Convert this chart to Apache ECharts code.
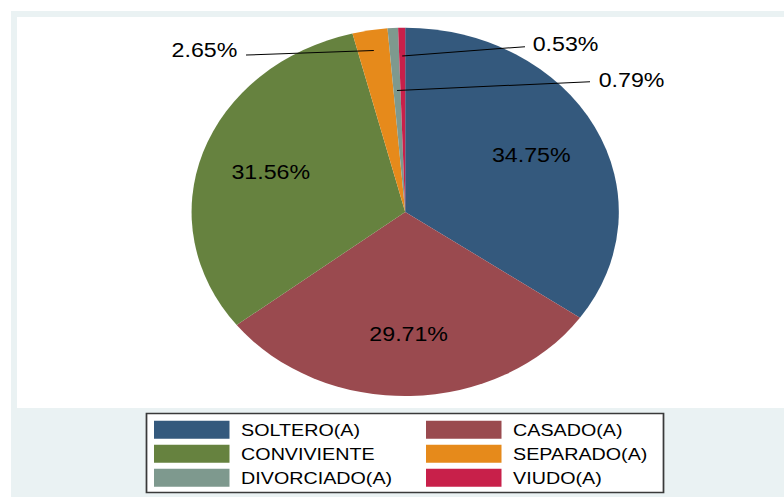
<!DOCTYPE html>
<html><head><meta charset="utf-8">
<script src="https://cdn.jsdelivr.net/npm/echarts@6/dist/echarts.min.js"></script>
<style>
html,body{margin:0;padding:0;background:#fff;overflow:hidden;width:784px;height:497px}
#chart{width:676px;height:497px;transform:scaleX(1.1597633);transform-origin:0 0;}
</style>
</head><body><div id="chart"></div><script>
// ---- data ----
const categories = ['SOLTERO(A)', 'CASADO(A)', 'CONVIVIENTE', 'SEPARADO(A)', 'DIVORCIADO(A)', 'VIUDO(A)'];
const values = [34.75, 29.71, 31.56, 2.65, 0.79, 0.53];
const legendColumn1 = ['SOLTERO(A)', 'CONVIVIENTE', 'DIVORCIADO(A)'];
const legendColumn2 = ['CASADO(A)', 'SEPARADO(A)', 'VIUDO(A)'];

// ---- style / layout ----
const colors = ['#34597D', '#9A4A4F', '#66823F', '#E68A1B', '#7E998E', '#C8204A'];
const S = 784 / 676;              // horizontal stretch of the reference
const X = v => v / S;             // reference x -> chart x
const CX = X(405.2), CY = 211.9, R = 184.2;
const FONT = '"Liberation Sans", Arial, Helvetica, sans-serif';
const insideK = 0.665;
// outside label placement (reference pixel coords) for small slices
const outside = {
  3: { k: 0.888, end: [246, 55], text: [237.3, 50], align: 'right' },
  4: { k: 0.66, end: [590, 81.7], text: [598.7, 80], align: 'left' },
  5: { k: 0.846, end: [525, 46.7], text: [532.7, 44], align: 'left' }
};

const total = values.reduce((a, b) => a + b, 0);
const mids = [];
let cum = 0;
values.forEach(v => { mids.push((cum + v / 2) / total); cum += v; });
function pt(i, k) {
  const th = (90 - 360 * mids[i]) * Math.PI / 180;
  return [CX + k * R * Math.cos(th), CY - k * R * Math.sin(th)];
}

const chart = echarts.init(document.getElementById('chart'), null, { renderer: 'svg' });

const legendBase = {
  orient: 'vertical', itemWidth: X(75.5), itemHeight: 18, itemGap: 6, padding: 0,
  icon: 'rect', selectedMode: false,
  textStyle: { fontFamily: FONT, fontSize: 17, color: '#000', lineHeight: 18, padding: [0, 0, 0, 5] }
};

const leaderLines = Object.keys(outside).map(key => {
  const i = +key, o = outside[i];
  return {
    type: 'polyline', silent: true, z: 100,
    shape: { points: [pt(i, o.k), [X(o.end[0]), o.end[1]]] },
    style: { stroke: '#000', lineWidth: 1, fill: null }
  };
});

chart.setOption({
  animation: false,
  color: colors,
  graphic: [
    { type: 'rect', silent: true, z: -10, shape: { x: X(11), y: 11, width: X(784 - 11) + 2, height: 497 - 11 }, style: { fill: '#EAF2F3' } },
    { type: 'rect', silent: true, z: -9, shape: { x: X(17), y: 17, width: X(784 - 17) + 2, height: 408 - 17 }, style: { fill: '#FFFFFF' } },
    { type: 'rect', silent: true, z: -8, shape: { x: X(146.5), y: 413.5, width: X(663.5 - 146.5), height: 79 }, style: { fill: '#FFFFFF', stroke: '#3A3A3A', lineWidth: 1.5 } }
  ].concat(leaderLines),
  legend: [
    Object.assign({}, legendBase, { left: X(154), top: 420.7, data: legendColumn1 }),
    Object.assign({}, legendBase, { left: X(426), top: 420.7, data: legendColumn2 })
  ],
  series: [{
    type: 'pie',
    center: [CX, CY],
    radius: [0, R],
    startAngle: 90,
    clockwise: true,
    avoidLabelOverlap: false,
    silent: true,
    emphasis: { disabled: true },
    itemStyle: { borderWidth: 0 },
    label: {
      fontFamily: FONT, fontSize: 20, color: '#000',
      formatter: p => values[p.dataIndex].toFixed(2) + '%'
    },
    labelLine: { show: false },
    data: categories.map((name, i) => ({
      name: name,
      value: values[i],
      label: { position: outside[i] ? 'outside' : 'inside' },
      labelLine: { show: false }
    })),
    labelLayout: function (p) {
      const i = p.dataIndex;
      const o = outside[i];
      if (!o) {
        const c = pt(i, insideK);
        return { x: c[0], y: c[1], align: 'center', verticalAlign: 'middle' };
      }
      return { x: X(o.text[0]), y: o.text[1], align: o.align, verticalAlign: 'middle' };
    }
  }]
});
</script></body></html>
